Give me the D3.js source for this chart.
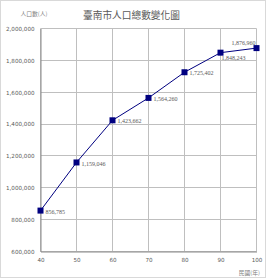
<!DOCTYPE html>
<html>
<head>
<meta charset="utf-8">
<script src="https://d3js.org/d3.v7.min.js"></script>
<style>
  body { margin: 0; background: #fff; }
</style>
</head>
<body>
<div id="chart"></div>
<script>
// data
const years = [40, 50, 60, 70, 80, 90, 100];
const population = [856785, 1159046, 1423662, 1564260, 1725402, 1848243, 1876960];
const yTicks = [600000, 800000, 1000000, 1200000, 1400000, 1600000, 1800000, 2000000];
const xTicks = [40, 50, 60, 70, 80, 90, 100];

const W = 268, H = 280;
const margin = {top: 28.5, right: 11.5, bottom: 28.5, left: 40.5};
const width = W - margin.left - margin.right,
      height = H - margin.top - margin.bottom;

const svg = d3.select("#chart").append("svg")
    .attr("width", W).attr("height", H);

// outer frame
svg.append("rect")
    .attr("x", 0.5).attr("y", 0.5)
    .attr("width", 265).attr("height", 277)
    .attr("fill", "#fff").attr("stroke", "#d9d9d9");

const g = svg.append("g")
    .attr("transform", `translate(${margin.left},${margin.top})`);

const x = d3.scaleLinear().domain([40, 100]).range([0, width]);
const y = d3.scaleLinear().domain([600000, 2000000]).range([height, 0]);

// grid
g.append("g").selectAll("line").data(yTicks).enter().append("line")
    .attr("x1", 0).attr("x2", width)
    .attr("y1", d => Math.round(y(d))).attr("y2", d => Math.round(y(d)))
    .attr("stroke", "#bfbfbf").attr("stroke-width", 1);
g.append("g").selectAll("line").data(xTicks).enter().append("line")
    .attr("y1", 0).attr("y2", height)
    .attr("x1", d => Math.round(x(d))).attr("x2", d => Math.round(x(d)))
    .attr("stroke", "#bfbfbf").attr("stroke-width", 1);

// axes
const fmt = d3.format(",");
const yAxis = g.append("g")
    .call(d3.axisLeft(y).tickValues(yTicks).tickFormat(fmt).tickSize(0).tickPadding(6));
const xAxis = g.append("g")
    .attr("transform", `translate(0,${height})`)
    .call(d3.axisBottom(x).tickValues(xTicks).tickSize(0).tickPadding(7));
[yAxis, xAxis].forEach(a => {
    a.select(".domain").attr("stroke", "#8c8c8c");
    a.selectAll("text")
        .attr("fill", "#595959")
        .style("font-family", "'DejaVu Sans', sans-serif")
        .style("font-size", "5.6px");
});

// line
const line = d3.line().x((d, i) => x(years[i])).y(d => y(d));
g.append("path")
    .datum(population)
    .attr("d", line)
    .attr("fill", "none")
    .attr("stroke", "#000080")
    .attr("stroke-width", 1);

// markers
g.selectAll("rect.pt").data(population).enter().append("rect")
    .attr("class", "pt")
    .attr("x", (d, i) => x(years[i]) - 3)
    .attr("y", d => y(d) - 3)
    .attr("width", 6).attr("height", 6)
    .attr("fill", "#000080");

// value labels
g.selectAll("text.lbl").data(population).enter().append("text")
    .attr("class", "lbl")
    .attr("x", (d, i) => x(years[i]) + (i === 6 ? -1 : i === 5 ? 1 : 5))
    .attr("y", (d, i) => y(d) + (i === 6 ? -5 : i === 5 ? 5 : 1))
    .attr("dy", "0.35em")
    .attr("text-anchor", (d, i) => i === 6 ? "end" : "start")
    .attr("fill", "#595959")
    .style("font-family", "'Liberation Serif', serif")
    .style("font-size", "6px")
    .text(d => fmt(d));

// titles
svg.append("text")
    .attr("x", 131.5).attr("y", 19)
    .attr("text-anchor", "middle")
    .attr("fill", "#595959")
    .style("font-family", "'Noto Sans CJK TC', sans-serif")
    .style("font-size", "9.7px")
    .text("臺南市人口總數變化圖");

svg.append("text")
    .attr("x", 34).attr("y", 15.5)
    .attr("text-anchor", "middle")
    .attr("fill", "#7f7f7f")
    .style("font-family", "'Noto Sans CJK TC', sans-serif")
    .style("font-size", "5.8px")
    .text("人口數(人)");

svg.append("text")
    .attr("x", 260).attr("y", 275)
    .attr("text-anchor", "end")
    .attr("fill", "#7f7f7f")
    .style("font-family", "'Noto Sans CJK TC', sans-serif")
    .style("font-size", "5.8px")
    .text("民國(年)");
</script>
</body>
</html>
